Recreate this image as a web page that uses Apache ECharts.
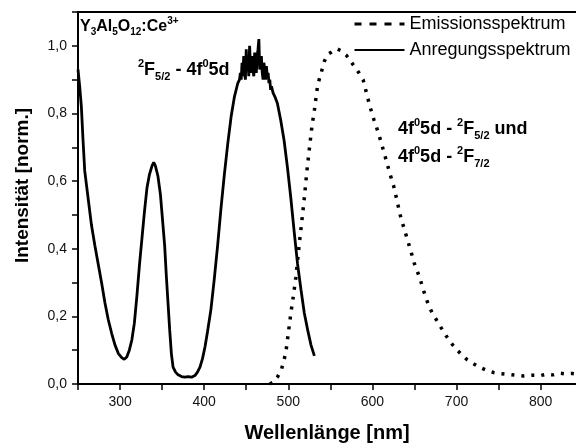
<!DOCTYPE html>
<html>
<head>
<meta charset="utf-8">
<script src="https://cdn.jsdelivr.net/npm/echarts@6/dist/echarts.min.js"></script>
<style>
  html, body { margin: 0; padding: 0; background: #fff; }
  #chart { width: 576px; height: 448px; }
</style>
</head>
<body>
<div id="chart"></div>
<script>
// Anregungsspektrum (solid line): wavelength [nm], intensity
var excWave = [250, 252, 254, 256, 258, 262, 266, 270, 274, 278, 282, 286, 290, 294, 298, 302, 305, 308, 311, 314,
  317, 320, 323, 326, 329, 332, 335, 338, 340, 342, 345, 348, 350, 353, 355, 357, 359, 361, 363, 366,
  369, 373, 377, 381, 385, 389, 392, 395, 398, 401, 404, 408, 412, 416, 420, 424, 428, 432, 436, 440,
  442, 443, 444, 445, 446, 447, 448, 449, 450, 451, 452, 453, 454, 455, 456, 457, 458, 459, 460, 461,
  462, 463, 464, 465, 466, 467, 468, 469, 470, 471, 472, 473, 474, 475, 476, 477, 478, 479, 480, 482,
  484, 487, 491, 495, 499, 503, 507, 511, 515, 519, 523, 527, 531];
var excValue = [0.93, 0.88, 0.82, 0.72, 0.63, 0.55, 0.47, 0.41, 0.355, 0.30, 0.24, 0.19, 0.15, 0.115, 0.09, 0.078, 0.073, 0.08, 0.10, 0.13,
  0.18, 0.26, 0.35, 0.43, 0.51, 0.58, 0.62, 0.645, 0.655, 0.645, 0.615, 0.56, 0.50, 0.41, 0.32, 0.24, 0.16, 0.09, 0.05, 0.035,
  0.027, 0.022, 0.02, 0.022, 0.02, 0.025, 0.035, 0.05, 0.075, 0.11, 0.155, 0.22, 0.31, 0.41, 0.52, 0.62, 0.71, 0.79, 0.85, 0.89,
  0.90, 0.92, 0.90, 0.95, 0.91, 0.97, 0.92, 0.90, 0.99, 0.93, 0.96, 0.91, 1.00, 0.94, 0.92, 0.97, 0.93, 0.91, 0.98, 0.94,
  0.92, 0.97, 0.99, 1.02, 0.93, 0.95, 0.97, 0.92, 0.90, 0.95, 0.93, 0.90, 0.94, 0.91, 0.92, 0.89, 0.90, 0.87, 0.88, 0.86,
  0.85, 0.83, 0.78, 0.72, 0.64, 0.55, 0.45, 0.355, 0.28, 0.21, 0.16, 0.115, 0.083];

// Emissionsspektrum (dotted line)
var emWave = [478, 482, 487, 492, 497, 500, 503, 506, 509, 513, 516, 519, 522, 525, 528, 531, 535, 539, 543, 547,
  551, 555, 558, 563, 569, 574, 579, 584, 589, 593, 597, 602, 607, 612, 617, 621, 625, 629, 633, 637,
  641, 646, 650, 656, 661, 666, 671, 676, 682, 688, 694, 700, 706, 712, 720, 728, 736, 744, 752, 760,
  770, 780, 790, 800, 807, 815, 822, 830, 838, 842];
var emValue = [0.0, 0.005, 0.02, 0.044, 0.092, 0.15, 0.209, 0.26, 0.316, 0.413, 0.48, 0.549, 0.627, 0.695, 0.76, 0.81, 0.885, 0.92, 0.955, 0.975,
  0.981, 0.988, 0.991, 0.985, 0.972, 0.955, 0.937, 0.92, 0.899, 0.86, 0.821, 0.78, 0.743, 0.70, 0.656, 0.62, 0.588, 0.545, 0.50, 0.465,
  0.432, 0.39, 0.355, 0.316, 0.275, 0.238, 0.21, 0.19, 0.165, 0.141, 0.12, 0.102, 0.087, 0.073, 0.06, 0.049, 0.04, 0.034, 0.031, 0.029,
  0.026, 0.024, 0.026, 0.025, 0.029, 0.027, 0.032, 0.03, 0.031, 0.03];

var xTickLabels = ["300", "400", "500", "600", "700", "800"];
var yTickLabels = ["0,0", "0,2", "0,4", "0,6", "0,8", "1,0"];

var font = "Liberation Sans, Arial, sans-serif";

var pairs = function (xs, ys) {
  var out = [];
  for (var i = 0; i < xs.length; i++) out.push([xs[i], ys[i]]);
  return out;
};

var makeRich = function (size, small, lh) {
  var base = { fontWeight: "bold", fontFamily: font, color: "#000", lineHeight: lh };
  return {
    b: Object.assign({ fontSize: size, verticalAlign: "middle" }, base),
    sup: Object.assign({ fontSize: small, verticalAlign: "top" }, base),
    sub: Object.assign({ fontSize: small, verticalAlign: "bottom" }, base)
  };
};
var bigRich = makeRich(18, 11, 24);
var smallRich = makeRich(16, 10, 21);

var chart = echarts.init(document.getElementById("chart"));
chart.setOption({
  animation: false,
  backgroundColor: "#fff",
  grid: { left: 78, right: 0, top: 12, bottom: 60 },
  legend: {
    orient: "vertical",
    left: 353,
    top: 15,
    padding: 0,
    itemWidth: 50,
    itemHeight: 14,
    itemGap: 8,
    itemStyle: { opacity: 0 },
    textStyle: { fontSize: 18, fontFamily: font, color: "#000" },
    data: [
      { name: "Emissionsspektrum", lineStyle: { type: [7, 8], width: 3, color: "#000" } },
      { name: "Anregungsspektrum", lineStyle: { type: "solid", width: 2, color: "#000" } }
    ]
  },
  xAxis: [
    {
      type: "value",
      min: 250,
      max: 842,
      interval: 50,
      name: "Wellenlänge [nm]",
      nameLocation: "middle",
      nameGap: 39,
      nameTextStyle: { fontSize: 20, fontWeight: "bold", fontFamily: font, color: "#000" },
      axisLine: { lineStyle: { color: "#000", width: 2 } },
      axisTick: { inside: false, length: 6, lineStyle: { color: "#000", width: 1.5 } },
      axisLabel: {
        margin: 11,
        fontSize: 14,
        fontFamily: font,
        color: "#111",
        showMaxLabel: false,
        formatter: function (v) {
          var s = String(v);
          return xTickLabels.indexOf(s) >= 0 ? s : "";
        }
      },
      splitLine: { show: false }
    },
    {
      type: "value",
      position: "top",
      min: 250,
      max: 842,
      axisLine: { lineStyle: { color: "#000", width: 2 } },
      axisTick: { show: false },
      axisLabel: { show: false },
      splitLine: { show: false }
    }
  ],
  yAxis: {
    type: "value",
    min: 0,
    max: 1.1,
    interval: 0.1,
    name: "Intensität [norm.]",
    nameLocation: "middle",
    nameGap: 46,
    nameTextStyle: { fontSize: 19, fontWeight: "bold", fontFamily: font, color: "#000", padding: [0, 0, 0, 25] },
    axisLine: { show: true, lineStyle: { color: "#000", width: 2 } },
    axisTick: { show: true, inside: false, length: 6, lineStyle: { color: "#000", width: 1.5 } },
    axisLabel: {
      margin: 11,
      fontSize: 14,
      fontFamily: font,
      color: "#111",
      formatter: function (v) {
        var s = v.toFixed(1).replace(".", ",");
        return yTickLabels.indexOf(s) >= 0 ? s : "";
      }
    },
    splitLine: { show: false }
  },
  graphic: [
    {
      type: "text", left: 80, top: 16,
      style: { text: "{b|Y}{sub|3}{b|Al}{sub|5}{b|O}{sub|12}{b|:Ce}{sup|3+}", rich: smallRich }
    },
    {
      type: "text", left: 138, top: 58,
      style: { text: "{sup|2}{b|F}{sub|5/2}{b| - 4f}{sup|0}{b|5d}", rich: bigRich }
    },
    {
      type: "text", left: 398, top: 117,
      style: { text: "{b|4f}{sup|0}{b|5d - }{sup|2}{b|F}{sub|5/2}{b| und}", rich: bigRich }
    },
    {
      type: "text", left: 398, top: 145,
      style: { text: "{b|4f}{sup|0}{b|5d - }{sup|2}{b|F}{sub|7/2}", rich: bigRich }
    }
  ],
  series: [
    {
      name: "Emissionsspektrum",
      type: "line",
      data: pairs(emWave, emValue),
      symbol: "none",
      smooth: false,
      lineStyle: { color: "#000", width: 3.5, type: [3, 7], cap: "butt" },
      itemStyle: { color: "#000" }
    },
    {
      name: "Anregungsspektrum",
      type: "line",
      data: pairs(excWave, excValue),
      symbol: "none",
      smooth: false,
      lineStyle: { color: "#000", width: 2.8 },
      itemStyle: { color: "#000" }
    }
  ]
});
</script>
</body>
</html>
